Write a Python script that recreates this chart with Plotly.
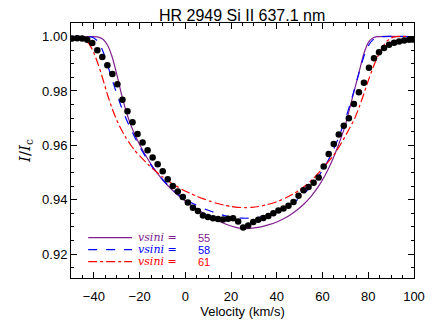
import plotly.graph_objects as go

# observed profile (velocity km/s, normalised flux)
obs_v = [-49.5, -47.3, -45.1, -42.9, -40.7, -38.5, -36.3, -34.1, -31.9, -29.7,
         -27.5, -25.3, -23.1, -20.9, -18.7, -16.5, -14.3, -12.1, -9.9, -7.7,
         -5.5, -3.3, -1.1, 1.1, 3.3, 5.5, 7.7, 9.9, 12.1, 14.3,
         16.5, 18.7, 20.9, 23.1, 25.3, 27.5, 29.7, 31.9, 34.1, 36.3,
         38.5, 40.7, 42.9, 45.1, 47.3, 49.5, 51.7, 53.9, 56.1, 58.3,
         60.5, 62.7, 64.9, 67.1, 69.3, 71.5, 73.7, 75.9, 78.1, 80.3,
         82.5, 84.7, 86.9, 89.1, 91.3, 93.5, 95.7, 97.9, 99.5]
obs_f = [0.9993, 0.9994, 0.9993, 0.9988, 0.9976, 0.9950, 0.9925, 0.9895, 0.9862, 0.9825,
         0.9768, 0.9725, 0.9685, 0.9642, 0.9610, 0.9582, 0.9555, 0.9530, 0.9505, 0.9475,
         0.9450, 0.9430, 0.9410, 0.9390, 0.9370, 0.9358, 0.9342, 0.9336, 0.9332, 0.9329,
         0.9327, 0.9330, 0.9332, 0.9320, 0.9298, 0.9305, 0.9318, 0.9326, 0.9333, 0.9340,
         0.9350, 0.9360, 0.9368, 0.9378, 0.9392, 0.9415, 0.9435, 0.9447, 0.9462, 0.9482,
         0.9522, 0.9568, 0.9605, 0.9640, 0.9672, 0.9700, 0.9752, 0.9795, 0.9830, 0.9885,
         0.9920, 0.9942, 0.9958, 0.9970, 0.9977, 0.9982, 0.9986, 0.9988, 0.9989]

# model profiles, vsini = 55, 58, 61 km/s
m55_v = [-50, -40, -38, -36, -34, -32, -30, -28, -26, -24, -22, -20, -17, -14, -11, -8, -5, -2,
         1, 4, 7, 10, 13, 16, 19, 22, 25, 28, 31, 34, 37, 40, 43, 46, 49, 52, 55, 58, 61, 64,
         67, 70, 72, 74, 76, 78, 80, 82, 84, 100]
m55_f = [1.0, 1.0, 0.9998, 0.9990, 0.9968, 0.9925, 0.9862, 0.9790, 0.9728, 0.9678, 0.9638,
         0.9603, 0.9558, 0.9518, 0.9484, 0.9455, 0.9430, 0.9408, 0.9389, 0.9372, 0.9356, 0.9342,
         0.9328, 0.9316, 0.9306, 0.9298, 0.9294, 0.9294, 0.9297, 0.9302, 0.9309, 0.9318, 0.9330,
         0.9345, 0.9363, 0.9385, 0.9412, 0.9446, 0.9488, 0.9540, 0.9602, 0.9675, 0.9740, 0.9805,
         0.9870, 0.9935, 0.9978, 0.9995, 1.0, 1.0]

m58_v = [-50, -42, -40, -38, -36, -34, -32, -30, -28, -26, -24, -22, -20, -17, -14, -11, -8, -5,
         -2, 1, 4, 7, 10, 13, 16, 19, 22, 25, 28, 31, 34, 37, 40, 43, 46, 49, 52, 55, 58, 61,
         64, 67, 70, 72, 74, 76, 78, 80, 82, 84, 86, 100]
m58_f = [1.0, 1.0, 0.9995, 0.9980, 0.9945, 0.9895, 0.9842, 0.9790, 0.9742, 0.9700, 0.9662,
         0.9628, 0.9596, 0.9553, 0.9515, 0.9484, 0.9457, 0.9433, 0.9413, 0.9397, 0.9383, 0.9371,
         0.9361, 0.9352, 0.9344, 0.9338, 0.9334, 0.9332, 0.9332, 0.9334, 0.9338, 0.9345, 0.9354,
         0.9366, 0.9381, 0.9400, 0.9423, 0.9450, 0.9483, 0.9522, 0.9570, 0.9628, 0.9697, 0.9750,
         0.9808, 0.9868, 0.9925, 0.9966, 0.9988, 0.9997, 1.0, 1.0]

m61_v = [-50, -46, -44, -42, -40, -38, -36, -34, -32, -30, -28, -26, -24, -22, -19, -16, -13,
         -10, -7, -4, -1, 2, 5, 8, 11, 14, 17, 20, 23, 26, 29, 32, 35, 38, 41, 44, 47, 50, 53,
         56, 59, 62, 65, 68, 71, 74, 76, 78, 80, 82, 84, 86, 88, 90, 92, 100]
m61_f = [1.0, 0.9998, 0.9990, 0.9972, 0.9940, 0.9895, 0.9842, 0.9785, 0.9735, 0.9693, 0.9658,
         0.9628, 0.9603, 0.9580, 0.9553, 0.9527, 0.9505, 0.9484, 0.9466, 0.9450, 0.9436, 0.9424,
         0.9413, 0.9403, 0.9394, 0.9386, 0.9380, 0.9375, 0.9372, 0.9371, 0.9372, 0.9375, 0.9380,
         0.9387, 0.9396, 0.9407, 0.9420, 0.9436, 0.9455, 0.9478, 0.9505, 0.9535, 0.9565, 0.9605,
         0.9650, 0.9698, 0.9740, 0.9788, 0.9838, 0.9884, 0.9925, 0.9958, 0.9982, 0.9995, 1.0, 1.0]

vsini = ["55", "58", "61"]
colors = ["#80208f", "#0000ff", "#ff0000"]
dashes = ["solid", "dash", "dashdot"]

fig = go.Figure()
for vv, ff, c, d in [(m55_v, m55_f, colors[0], dashes[0]),
                     (m58_v, m58_f, colors[1], dashes[1]),
                     (m61_v, m61_f, colors[2], dashes[2])]:
    fig.add_scatter(x=vv, y=ff, mode="lines",
                    line=dict(color=c, width=1.2, dash=d, shape="spline", smoothing=0.6),
                    showlegend=False)
fig.add_scatter(x=obs_v, y=obs_f, mode="markers", marker=dict(color="black", size=6.5),
                showlegend=False)

# legend drawn by hand (IDL-like tight rows)
rows = [0.158, 0.111, 0.064]
for i in range(3):
    fig.add_shape(type="line", xref="paper", yref="paper", x0=0.05, x1=0.178, y0=rows[i], y1=rows[i],
                  line=dict(color=colors[i], width=1.2, dash=dashes[i]))
    fig.add_annotation(xref="paper", yref="paper", x=0.193, y=rows[i], xanchor="left", yanchor="middle",
                       text="<i>vsini</i> =", showarrow=False, borderpad=0,
                       font=dict(family="DejaVu Serif", size=11, color=colors[i]))
    fig.add_annotation(xref="paper", yref="paper", x=0.368, y=rows[i], xanchor="left", yanchor="middle",
                       text=vsini[i], showarrow=False, borderpad=0,
                       font=dict(family="Liberation Sans", size=11, color=colors[i]))

# page body has an 8px margin, so the figure is sized to fit inside the window
fig.update_layout(
    width=428, height=319,
    margin=dict(l=63, r=22, t=15, b=49, autoexpand=False),
    paper_bgcolor="white", plot_bgcolor="white",
    font=dict(family="Liberation Sans", size=13, color="black"),
    title=dict(text="HR 2949 Si II 637.1 nm", x=0.547, xanchor="center", y=0.977, yanchor="middle",
               font=dict(size=16)),
)
fig.update_xaxes(range=[-50, 100], dtick=20, tick0=-40, ticks="inside", ticklen=6, tickcolor="black",
                 showline=True, linecolor="black", linewidth=1, mirror="allticks", showgrid=False,
                 zeroline=False, automargin=False, ticklabelstandoff=6,
                 minor=dict(dtick=5, ticks="inside", ticklen=3, tickcolor="black"),
                 title=dict(text="Velocity (km/s)", standoff=3, font=dict(size=13)))
fig.update_yaxes(range=[0.9112, 1.005], dtick=0.02, tick0=0.92, tickformat=".2f", ticks="inside",
                 ticklen=6, tickcolor="black", showline=True, linecolor="black", linewidth=1,
                 mirror="allticks", showgrid=False, zeroline=False, automargin=False,
                 minor=dict(dtick=0.005, ticks="inside", ticklen=3, tickcolor="black"),
                 title=dict(text="<i>I</i>/<i>I</i><sub>c</sub>", standoff=7,
                            font=dict(family="DejaVu Serif", size=15)))

fig.write_html("out.html")
